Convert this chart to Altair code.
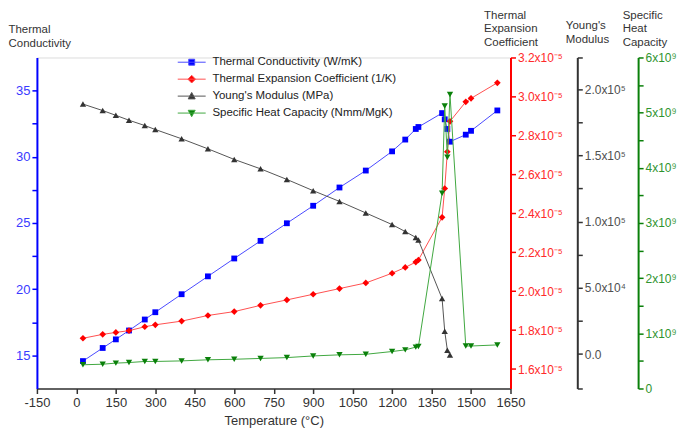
import altair as alt
import pandas as pd

# ---------------- data ----------------
temps = [25, 100, 150, 200, 260, 300, 400, 500, 600, 700, 800, 900, 1000, 1100,
         1200, 1250, 1290, 1300, 1390, 1400, 1410, 1420, 1480, 1500, 1600]

thermal_conductivity = [14.57, 15.56, 16.21, 16.88, 17.71, 18.26, 19.62, 20.97, 22.32,
                        23.65, 24.98, 26.30, 27.68, 28.96, 30.41, 31.30, 32.10, 32.25,
                        33.30, 32.83, 32.10, 31.14, 31.67, 31.96, 33.50]

thermal_expansion = [1.758e-5, 1.778e-5, 1.788e-5, 1.797e-5, 1.817e-5, 1.827e-5, 1.846e-5,
                     1.875e-5, 1.895e-5, 1.927e-5, 1.955e-5, 1.984e-5, 2.013e-5, 2.042e-5,
                     2.092e-5, 2.122e-5, 2.149e-5, 2.160e-5, 2.379e-5, 2.527e-5, 2.716e-5,
                     2.872e-5, 2.972e-5, 2.990e-5, 3.070e-5]

youngs_temps = temps[:22]
youngs_modulus = [188800, 183900, 180300, 176600, 172600, 169600, 162600, 155000, 147000,
                  139900, 131900, 123400, 115300, 106600, 97800, 92500, 88100, 86100,
                  41900, 17300, 2900, -700]

specific_heat = [0.43e9, 0.44e9, 0.46e9, 0.47e9, 0.49e9, 0.49e9, 0.50e9, 0.52e9, 0.53e9,
                 0.545e9, 0.56e9, 0.59e9, 0.61e9, 0.62e9, 0.67e9, 0.70e9, 0.75e9, 0.76e9,
                 3.54e9, 5.12e9, 4.19e9, 5.33e9, 0.77e9, 0.77e9, 0.79e9]

series_names = ["Thermal Conductivity (W/mK)",
                "Thermal Expansion Coefficient (1/K)",
                "Young's Modulus (MPa)",
                "Specific Heat Capacity (Nmm/MgK)"]

x_ticks = [-150, 0, 150, 300, 450, 600, 750, 900, 1050, 1200, 1350, 1500, 1650]
tc_ticks = [15, 17.5, 20, 22.5, 25, 27.5, 30, 32.5, 35]
tec_ticks = [1.6e-5, 1.8e-5, 2.0e-5, 2.2e-5, 2.4e-5, 2.6e-5, 2.8e-5, 3.0e-5, 3.2e-5]
ym_ticks = [-26000, 0, 25000, 50000, 75000, 100000, 125000, 150000, 175000, 200000, 224000]
shc_ticks = [0, 0.5e9, 1e9, 1.5e9, 2e9, 2.5e9, 3e9, 3.5e9, 4e9, 4.5e9, 5e9, 5.5e9, 6e9]

# ---------------- styling ----------------
FONT = "Liberation Sans"
BLUE, BLUE_L = "#0000ff", "#4a4aff"
RED, RED_L = "#ff0000", "#ff5050"
BLK, BLK_L = "#333333", "#555555"
GRN, GRN_L = "#0a800a", "#40a840"
LH = 13.5  # axis-title line height

df_tc = pd.DataFrame({"T": temps, "v": thermal_conductivity})
df_tec = pd.DataFrame({"T": temps, "v": thermal_expansion})
df_ym = pd.DataFrame({"T": youngs_temps, "v": youngs_modulus})
df_shc = pd.DataFrame({"T": temps, "v": specific_heat})

x_enc = alt.X("T:Q",
              scale=alt.Scale(domain=[-150, 1650], nice=False, zero=False),
              axis=alt.Axis(values=x_ticks, title="Temperature (°C)", grid=False,
                            labelExpr="'' + datum.value",
                            labelFlush=False, labelOverlap=False,
                            domainColor="#333333", domainWidth=1.5,
                            tickColor="#333333", tickWidth=1.5, tickSize=5,
                            labelColor="#333333", labelFontSize=13, labelPadding=3,
                            titleColor="#333333", titleFontSize=13, titleFontWeight="normal",
                            titlePadding=5))

TITLE_COMMON = dict(titleAngle=0, titleAlign="left", titleBaseline="top",
                    titleColor="#333333", titleFontSize=11.5, titleFontWeight="normal",
                    titleLineHeight=LH)


def series(df, color_line, color_pt, shape, size, y_enc):
    return alt.Chart(df).mark_line(
        color=color_line, strokeWidth=1,
        point=alt.OverlayMarkDef(shape=shape, filled=True, color=color_pt,
                                 size=size, opacity=1)
    ).encode(x=x_enc, y=y_enc)


y_tc = alt.Y("v:Q", scale=alt.Scale(domain=[12.5, 37.5], nice=False, zero=False),
             axis=alt.Axis(orient="left", values=tc_ticks, grid=False,
                           labelExpr="datum.value % 5 == 0 ? format(datum.value, 'd') : ''",
                           labelOverlap=False, domainColor=BLUE, domainWidth=2,
                           tickColor=BLUE, tickWidth=1.5, tickSize=5,
                           labelColor="#3a3aff", labelFontSize=13,
                           title=["Thermal", "Conductivity"],
                           titleX=-29, titleY=-7 - 2 * LH, **TITLE_COMMON))

y_tec = alt.Y("v:Q", scale=alt.Scale(domain=[1.5e-5, 3.2e-5], nice=False, zero=False),
              axis=alt.Axis(orient="right", offset=0, values=tec_ticks, grid=False,
                            labelExpr="format(datum.value*100000, '.1f') + 'x10\u207b\u2075'",
                            labelOverlap=False, domainColor=RED, domainWidth=2,
                            tickColor=RED, tickWidth=1.5, tickSize=5,
                            labelColor="#ff2a2a", labelFontSize=12,
                            title=["Thermal", "Expansion", "Coefficient"],
                            titleX=-27, titleY=-8 - 3 * LH, **TITLE_COMMON))

y_ym = alt.Y("v:Q", scale=alt.Scale(domain=[-26000, 224000], nice=False, zero=False),
             axis=alt.Axis(orient="right", offset=67, values=ym_ticks, grid=False,
                           labelExpr=("datum.value == 0 ? '0.0' : "
                                      "(abs(datum.value - round(datum.value/50000)*50000) > 1 ? '' : "
                                      "(datum.value >= 100000 ? format(datum.value/100000, '.1f') + 'x10\u2075' : "
                                      "format(datum.value/10000, '.1f') + 'x10\u2074'))"),
                           labelOverlap=False, domainColor=BLK, domainWidth=2,
                           tickColor=BLK, tickWidth=1.5, tickSize=5,
                           labelColor="#505050", labelFontSize=12,
                           title=["Young's", "Modulus"],
                           titleX=-12, titleY=-11 - 2 * LH, **TITLE_COMMON))

y_shc = alt.Y("v:Q", scale=alt.Scale(domain=[0, 6e9], nice=False, zero=False),
              axis=alt.Axis(orient="right", offset=128, values=shc_ticks, grid=False,
                            labelExpr=("datum.value % 1000000000 == 0 ? "
                                       "(datum.value == 0 ? '0' : format(datum.value/1000000000, 'd') + 'x10\u2079') : ''"),
                            labelOverlap=False, domainColor=GRN, domainWidth=2,
                            tickColor=GRN, tickWidth=1.5, tickSize=5,
                            labelColor="#2f942f", labelFontSize=12,
                            title=["Specific", "Heat", "Capacity"],
                            titleX=-16, titleY=-8 - 3 * LH, **TITLE_COMMON))

tc_layer = series(df_tc, BLUE_L, BLUE, "square", 34, y_tc)
tec_layer = series(df_tec, RED_L, RED, "diamond", 45, y_tec)
ym_layer = series(df_ym, BLK_L, BLK, "triangle-up", 40, y_ym)
shc_layer = series(df_shc, GRN_L, GRN, "triangle-down", 40, y_shc)

# ---------------- legend (line + marker symbols) ----------------
legend_paths = ["M-4,0H4M-0.85,-0.85H0.85V0.85H-0.85Z",
                "M-4,0H4M0,-1.1L1.1,0L0,1.1L-1.1,0Z",
                "M-4,0H4M0,-1.05L1.0,0.8L-1.0,0.8Z",
                "M-4,0H4M0,1.05L1.0,-0.8L-1.0,-0.8Z"]
marker_colors = [BLUE, RED, BLK, GRN]
line_colors = [BLUE_L, RED_L, BLK_L, GRN_L]

leg = alt.Legend(orient="none", legendX=149.5, legendY=-1, title=None, padding=0,
                 symbolSize=49, symbolStrokeWidth=1, symbolOpacity=1,
                 labelOffset=15, labelFontSize=11.5, labelColor="#222222", labelFont=FONT,
                 rowPadding=4, labelLimit=400)

legend_layer = alt.Chart(pd.DataFrame({"series": series_names})).mark_point(
    filled=True
).encode(
    fill=alt.Fill("series:N", scale=alt.Scale(domain=series_names, range=marker_colors), legend=leg),
    stroke=alt.Stroke("series:N", scale=alt.Scale(domain=series_names, range=line_colors), legend=leg),
    shape=alt.Shape("series:N", scale=alt.Scale(domain=series_names, range=legend_paths), legend=leg),
).transform_filter("false")

chart = alt.layer(tc_layer, tec_layer, ym_layer, shc_layer, legend_layer).resolve_scale(
    y="independent"
).properties(
    width=475, height=332, padding=0, background="white"
).configure_view(stroke=None).configure(font=FONT)

chart.save("out.html", embed_options={"renderer": "svg", "actions": False})
